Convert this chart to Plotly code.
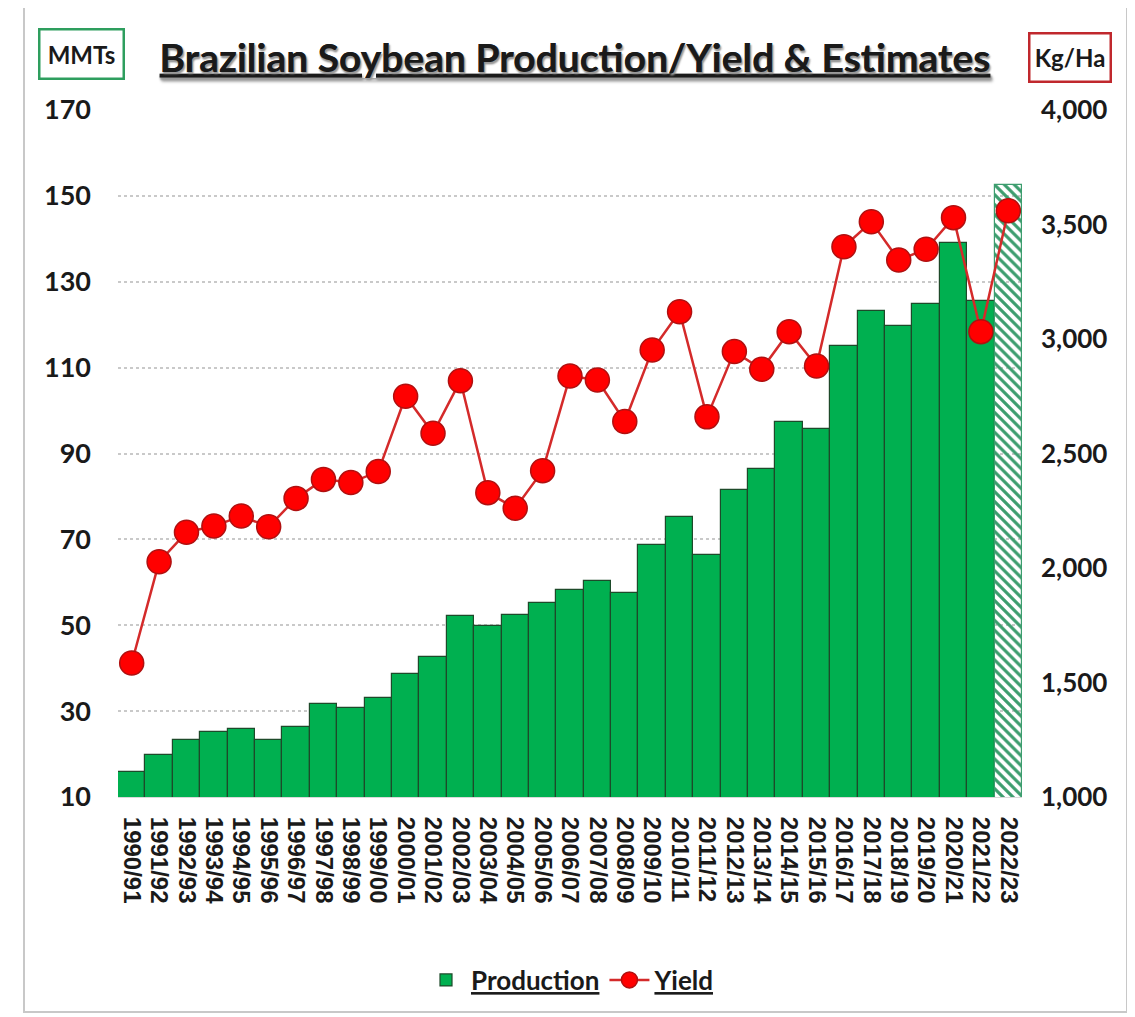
import plotly.graph_objects as go
from plotly.subplots import make_subplots

# marketing years (x categories)
seasons = ["1990/91", "1991/92", "1992/93", "1993/94", "1994/95", "1995/96",
           "1996/97", "1997/98", "1998/99", "1999/00", "2000/01", "2001/02",
           "2002/03", "2003/04", "2004/05", "2005/06", "2006/07", "2007/08",
           "2008/09", "2009/10", "2010/11", "2011/12", "2012/13", "2013/14",
           "2014/15", "2015/16", "2016/17", "2017/18", "2018/19", "2019/20",
           "2020/21", "2021/22", "2022/23"]

# production, million metric tons (last one is the estimate)
production = [15.8, 19.8, 23.3, 25.1, 25.9, 23.3, 26.4, 31.7, 30.8, 33.0,
              38.6, 42.5, 52.2, 49.8, 52.4, 55.1, 58.3, 60.3, 57.5, 68.7,
              75.3, 66.4, 81.4, 86.5, 97.3, 95.8, 115.1, 123.1, 119.7, 124.8,
              139.1, 125.5, 152.6]

# yield, kg per hectare
yield_kg = [1585, 2027, 2156, 2183, 2227, 2180, 2304, 2387, 2373, 2421,
            2750, 2588, 2818, 2329, 2261, 2425, 2838, 2821, 2640, 2952,
            3119, 2660, 2945, 2868, 3032, 2882, 3403, 3512, 3345, 3392,
            3530, 3032, 3560]

is_estimate = [s == "2022/23" for s in seasons]

# page body has an 8px margin, so the figure is 8px smaller than the window
OFF = 8
W, H = 1135 - OFF, 1017 - OFF
L, R, T, B = 110, 113, 102, 220


def px_x(p):
    return (p - OFF - L) / (W - L - R)


def px_y(p):
    return (H - B - (p - OFF)) / (H - T - B)


GREEN = "#00b050"
FONT = "Lato"

fig = make_subplots(specs=[[{"secondary_y": True}]])

fig.add_trace(go.Bar(
    x=seasons, y=production, name="<b><u>Production</u></b>",
    marker=dict(
        color=["#3c9d6e" if e else GREEN for e in is_estimate],
        line=dict(color=["#3c9d6e" if e else "#1d4a2a" for e in is_estimate], width=1.2),
        pattern=dict(shape=["\\" if e else "" for e in is_estimate],
                     bgcolor="#dff5ea", fillmode="replace", size=7, solidity=0.45),
    ),
), secondary_y=False)

fig.add_trace(go.Scatter(
    x=seasons, y=yield_kg, name="<b><u>Yield</u></b>", mode="lines+markers",
    line=dict(color="#d42a2a", width=2.5),
    marker=dict(color="#ff0000", size=24, line=dict(color="#b01010", width=1.5)),
), secondary_y=True)

fig.update_layout(
    width=W, height=H,
    margin=dict(l=L, r=R, t=T, b=B, autoexpand=False),
    paper_bgcolor="white", plot_bgcolor="white",
    bargap=0,
    font=dict(family=FONT, color="#1a1a1a"),
    title=dict(text="<b><u>Brazilian Soybean Production/Yield & Estimates</u></b>",
               xref="container", x=(575 - OFF) / W, xanchor="center",
               yref="container", y=1 - (58 - OFF) / H, yanchor="middle",
               font=dict(size=39, family=FONT, color="#1a1a1a",
                         shadow="1px 2px 2px #9a9a9a")),
    legend=dict(orientation="h", x=0.5, xanchor="center", y=px_y(980), yanchor="middle",
                font=dict(size=26, family=FONT, color="#1a1a1a"),
                itemwidth=40, traceorder="normal"),
    showlegend=True,
)

fig.update_xaxes(
    type="category", domain=[0, 1], range=[-0.5, len(seasons) - 0.5],
    tickangle=90, ticklabelstandoff=14, automargin=False,
    tickmode="array", tickvals=seasons, ticktext=seasons,
    tickfont=dict(size=24, family="Liberation Sans", color="#1a1a1a", weight="bold"),
    showgrid=False, showline=True, linecolor="#d9d9d9", ticks="",
)

fig.update_yaxes(
    range=[10, 170], dtick=20, tick0=10, secondary_y=False, automargin=False,
    showgrid=True, gridcolor="#c9c9c9", griddash="dot", gridwidth=1.5,
    tickfont=dict(size=27, family=FONT, weight="bold"), ticklabelstandoff=26,
    zeroline=False, showline=False,
)
fig.update_yaxes(
    range=[1000, 4000], dtick=500, tickformat=",", secondary_y=True, automargin=False,
    showgrid=False, zeroline=False, showline=False,
    tickfont=dict(size=26, family=FONT, weight="bold"), ticklabelstandoff=18,
)

# unit boxes
fig.add_annotation(text="<b>MMTs</b>", xref="paper", yref="paper",
                   x=px_x(81), y=px_y(54), xanchor="center", yanchor="middle",
                   showarrow=False, width=80, height=45, borderpad=1,
                   font=dict(size=24, family=FONT, color="#1a1a1a"),
                   bordercolor="#2e9e5e", borderwidth=2.5)
fig.add_annotation(text="<b>Kg/Ha</b>", xref="paper", yref="paper",
                   x=px_x(1070), y=px_y(57), xanchor="center", yanchor="middle",
                   showarrow=False, width=77, height=44, borderpad=1,
                   font=dict(size=24, family=FONT, color="#1a1a1a"),
                   bordercolor="#c0282d", borderwidth=2.5)

# outer frame
fig.add_shape(type="rect", xref="paper", yref="paper",
              x0=px_x(24), x1=px_x(1127), y0=px_y(1012), y1=px_y(5),
              line=dict(color="#c8c8c8", width=2), layer="below")

fig.write_html("out.html")
